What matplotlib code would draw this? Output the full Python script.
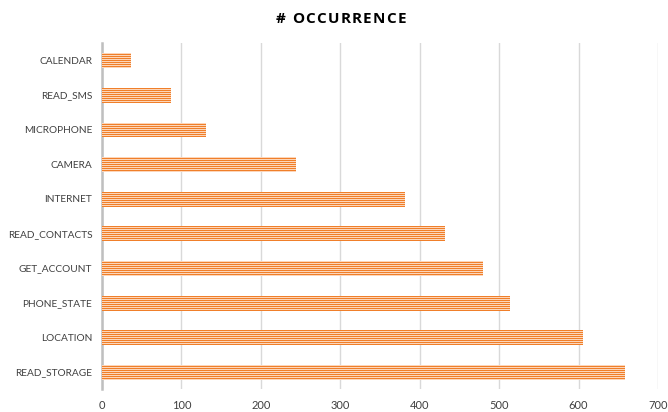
import matplotlib
matplotlib.use("Agg")
import matplotlib.pyplot as plt
import matplotlib.colors as mcolors
import numpy as np

# Permission occurrence counts
permissions = ["READ_STORAGE", "LOCATION", "PHONE_STATE", "GET_ACCOUNT",
               "READ_CONTACTS", "INTERNET", "CAMERA", "MICROPHONE",
               "READ_SMS", "CALENDAR"]
occurrences = [657, 604, 512, 479, 430, 380, 243, 130, 86, 35]
x_ticks = [0, 100, 200, 300, 400, 500, 600, 700]
title = "# OCCURRENCE"

W, H, DPI = 668, 412, 100
STRIPE_DARK = "#F07F2A"
STRIPE_LIGHT = "#FCD6BA"

plt.rcParams["font.family"] = ["Lato", "DejaVu Sans"]

fig = plt.figure(figsize=(W / DPI, H / DPI), dpi=DPI)
ax = fig.add_axes([0.1527, 0.055, 0.8323, 0.841])

bars = ax.barh(range(len(permissions)), occurrences, height=0.4,
               color=STRIPE_DARK, linewidth=0, zorder=3)

# Narrow horizontal stripe fill, one pixel per stripe, clipped to each bar
stripes = np.zeros((H, W, 4))
dark = mcolors.to_rgba(STRIPE_DARK)
light = mcolors.to_rgba(STRIPE_LIGHT)
stripes[0::2] = dark
stripes[1::2] = light
for bar in bars:
    im = fig.figimage(stripes, 0, 0, zorder=3.5)
    im.set_clip_path(bar)

ax.set_xlim(0, 700)
ax.set_ylim(-0.5, len(permissions) - 0.5)
ax.set_xticks(x_ticks)
ax.set_xticklabels([str(t) for t in x_ticks], fontsize=8, color="#404040")
ax.set_yticks(range(len(permissions)))
ax.set_yticklabels(permissions, fontsize=7.3, color="#404040")
ax.tick_params(axis="both", length=0)
ax.tick_params(axis="x", pad=8)
ax.tick_params(axis="y", pad=7)

ax.grid(axis="x", color="#D9D9D9", linewidth=1.0, zorder=0)
for side in ("top", "right", "bottom"):
    ax.spines[side].set_visible(False)
ax.spines["left"].set_color("#BFBFBF")
ax.spines["left"].set_linewidth(1.8)
ax.spines["left"].set_zorder(4)

# Title with letter tracking, laid out character by character
renderer = fig.canvas.get_renderer()
tprops = dict(fontsize=11, fontweight="bold", color="#000000",
              family="Open Sans", va="center", ha="left")
tracking = 1.3  # px between letters
widths = []
for ch in title:
    if ch == " ":
        widths.append(3.5)
        continue
    t = fig.text(0, 0, ch, **tprops)
    widths.append(t.get_window_extent(renderer).width)
    t.remove()
total = sum(widths) + tracking * (len(title) - 1)
x0 = 341 - total / 2
for ch, w in zip(title, widths):
    if ch != " ":
        fig.text(x0 / W, 1 - 19 / H, ch, **tprops)
    x0 += w + tracking

fig.savefig("out.png", dpi=DPI)
